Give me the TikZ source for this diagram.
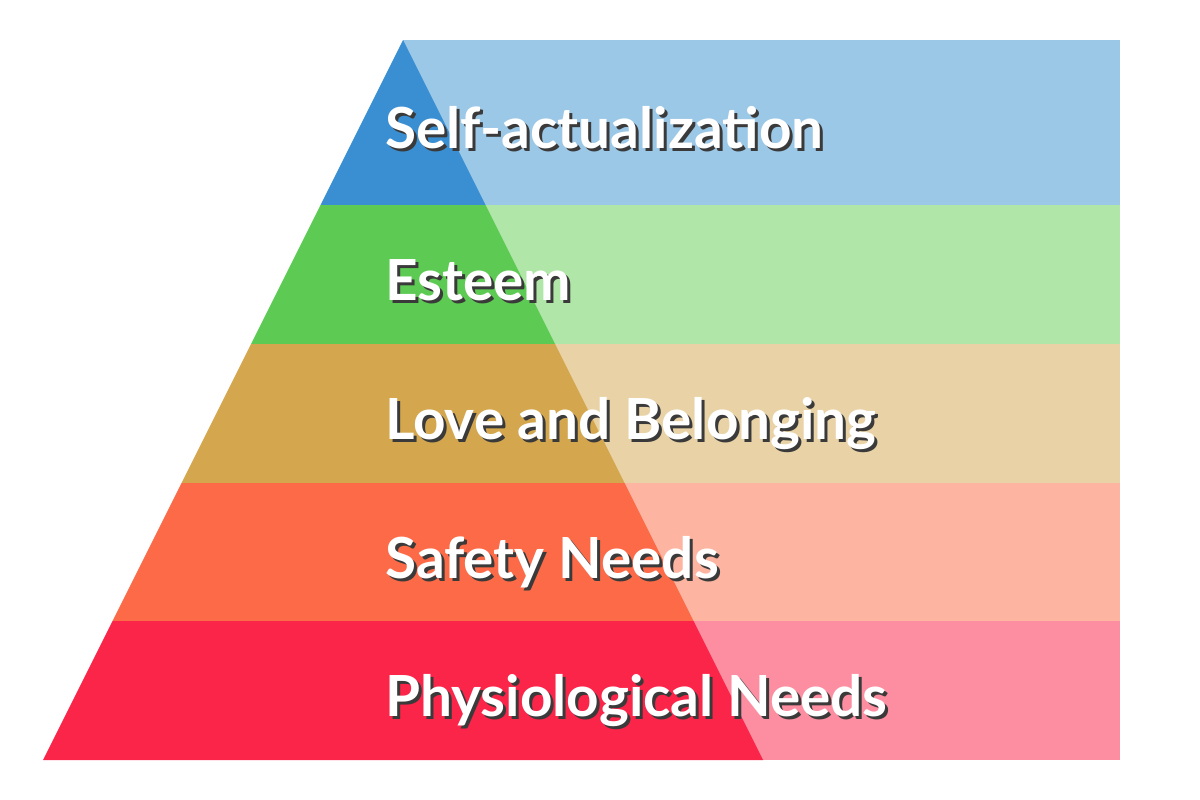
\documentclass[tikz,border=0pt]{standalone}
\usepackage{fontspec}
\newfontfamily\lato{Lato}
\definecolor{dA}{HTML}{3A8FD2}\definecolor{lA}{HTML}{9CC8E8}
\definecolor{dB}{HTML}{5DCB53}\definecolor{lB}{HTML}{B0E6A8}
\definecolor{dC}{HTML}{D4A74F}\definecolor{lC}{HTML}{E9D3A6}
\definecolor{dD}{HTML}{FD6A47}\definecolor{lD}{HTML}{FDB4A0}
\definecolor{dE}{HTML}{FB2449}\definecolor{lE}{HTML}{FD8DA0}
\definecolor{shadowc}{HTML}{3A3A3A}
\tikzset{
  lbl/.style={anchor=base west, inner sep=0pt, text=white, font=\lato\bfseries\fontsize{42.5}{50}\selectfont},
  lblshadow/.style={lbl, text=shadowc},
}
\newcommand{\tier}[6]{%
  % #1 top y, #2 bottom y, #3 dark, #4 light, #5 label, #6 name
  \pgfmathsetmacro{\xlt}{403-0.5*(#1-40)}
  \pgfmathsetmacro{\xrt}{403+0.5*(#1-40)}
  \pgfmathsetmacro{\xlb}{403-0.5*(#2-40)}
  \pgfmathsetmacro{\xrb}{403+0.5*(#2-40)}
  \pgfmathsetmacro{\yb}{(#1+#2)/2+26}
  \fill[#4] (403,#1) rectangle (1120,#2);
  \fill[#3] (\xlt,#1) -- (\xrt,#1) -- (\xrb,#2) -- (\xlb,#2) -- cycle;
  \node[lblshadow] (#6s) at (388,\yb+3) {#5};
  \node[lbl] (#6) at (385,\yb) {#5};
}
\begin{document}
\begin{tikzpicture}[x=0.75pt,y=-0.75pt]
\useasboundingbox (0,0) rectangle (1200,800);
\fill[white] (0,0) rectangle (1200,800);
\tier{40}{205}{dA}{lA}{Self-actualization}{self}
\tier{205}{344}{dB}{lB}{Esteem}{esteem}
\tier{344}{483}{dC}{lC}{Love and Belonging}{love}
\tier{483}{621}{dD}{lD}{Safety Needs}{safety}
\tier{621}{760}{dE}{lE}{Physiological Needs}{phys}
\end{tikzpicture}
\end{document}
